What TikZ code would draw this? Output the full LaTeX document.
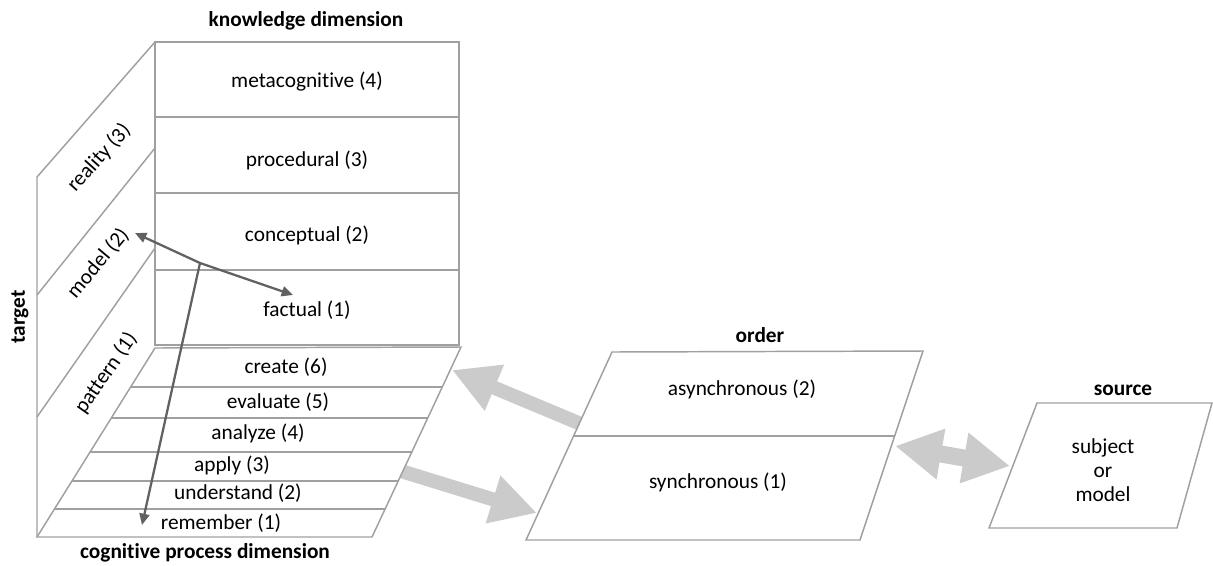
\documentclass[tikz,border=0pt]{standalone}
\usepackage{fontspec}
\setmainfont{Carlito}[RawFeature={-liga;-clig;-dlig;-calt;-hlig}]
\usetikzlibrary{arrows.meta}
\definecolor{boxline}{HTML}{A0A0A0}
\definecolor{darkarrow}{HTML}{616161}
\definecolor{bigarrow}{HTML}{CBCBCB}
\begin{document}
\begin{tikzpicture}[x=0.75pt,y=-0.75pt,
  boxl/.style={draw=boxline, line width=1.1pt, line join=miter},
  lbl/.style={font=\fontsize{16}{19}\selectfont, inner sep=0pt, align=center},
  ttl/.style={font=\fontsize{16}{19}\selectfont\bfseries, inner sep=0pt},
  darr/.style={draw=darkarrow, line width=1.7pt, -{Triangle[length=8.5pt,width=7.5pt]}},
  garr/.style={draw=bigarrow, line width=10.5pt, -{Triangle[length=34.5pt,width=35pt]}},
  gdarr/.style={draw=bigarrow, line width=12.75pt, {Triangle[length=35pt,width=36pt]}-{Triangle[length=35pt,width=36pt]}}
]
\useasboundingbox (0,0) rectangle (1213,565);

% connector end points
\coordinate (g1tail) at (600,432);
\coordinate (g1tip) at (452,370);
\coordinate (g2tail) at (375,463);
\coordinate (g2tip) at (537,513);
\coordinate (dl) at (895,446);
\coordinate (dr) at (1010,466);

% big gray arrows (drawn first, covered by white boxes)
\draw[garr] (g1tail) -- (g1tip);
\draw[garr] (g2tail) -- (g2tip);
\draw[gdarr] (dl) -- (dr);

% target panel
\draw[boxl] (37,537) -- (37,177) -- (155,42);
\draw[boxl] (37,295) -- (155,148);
\draw[boxl] (37,417) -- (155,248);

% knowledge box
\draw[boxl, fill=white] (155,42) rectangle (459,345);
\draw[boxl] (155,117) -- (459,117);
\draw[boxl] (155,193) -- (459,193);
\draw[boxl] (155,270) -- (459,270);

% cognitive floor
\draw[boxl, fill=white] (155,348) -- (461,347) -- (372,537) -- (37,537) -- cycle;
\draw[boxl] (130.7,387) -- (442.3,387);
\draw[boxl] (111.3,418) -- (427.7,418);
\draw[boxl] (90.1,452) -- (411.8,452);
\draw[boxl] (72.0,481) -- (398.2,481);
\draw[boxl] (54.5,509) -- (385.1,509);

% order box
\draw[boxl, fill=white] (612,352) -- (923,351) -- (860,540) -- (526,540) -- cycle;
\draw[boxl] (574,436) -- (894,436);

% source box
\draw[boxl, fill=white] (1037,403) -- (1212,403) -- (1177,528) -- (989,528) -- cycle;

% titles
\node[ttl] (kdt) at (306,21) {knowledge dimension};
\node[ttl] (cpt) at (205,553) {cognit\kern0pt ive process dimension};
\node[ttl, rotate=90] (tgt) at (20,317) {target};
\node[ttl] (ordt) at (760,335) {order};
\node[ttl] (srct) at (1123,390) {source};

% knowledge labels
\node[lbl] (meta) at (307,82) {metacognit\kern0pt ive (4)};
\node[lbl] (proc) at (307,160) {procedural (3)};
\node[lbl] (conc) at (307,235) {conceptual (2)};
\node[lbl] (fact) at (307,310) {factual (1)};

% target labels
\node[lbl, rotate=48] (real) at (99,158) {reality (3)};
\node[lbl, rotate=50] (modl) at (98,263) {model (2)};
\node[lbl, rotate=55] (patt) at (106,373) {pattern (1)};

% cognitive labels
\node[lbl] (crea) at (286,367) {create (6)};
\node[lbl] (eval) at (278,402) {evaluate (5)};
\node[lbl] (anal) at (258,433) {analyze (4)};
\node[lbl] (appl) at (232,465) {apply (3)};
\node[lbl] (unde) at (238,493) {understand (2)};
\node[lbl] (reme) at (221,523) {remember (1)};

% order labels
\node[lbl] (asyn) at (742,389) {asynchronous (2)};
\node[lbl] (sync) at (718,482) {synchronous (1)};

% source label
\node[lbl, text depth=0pt] (subj) at (1103,470) {subject\\[-1pt]or\\[-1pt]model};

% dark arrows
\coordinate (J) at (200,263);
\coordinate (tm) at (135,233);
\coordinate (tf) at (293,295);
\coordinate (tr) at (142,525);
\draw[darr] (J) -- (tm);
\draw[darr] (J) -- (tf);
\draw[darr] (J) -- (tr);
\end{tikzpicture}
\end{document}
